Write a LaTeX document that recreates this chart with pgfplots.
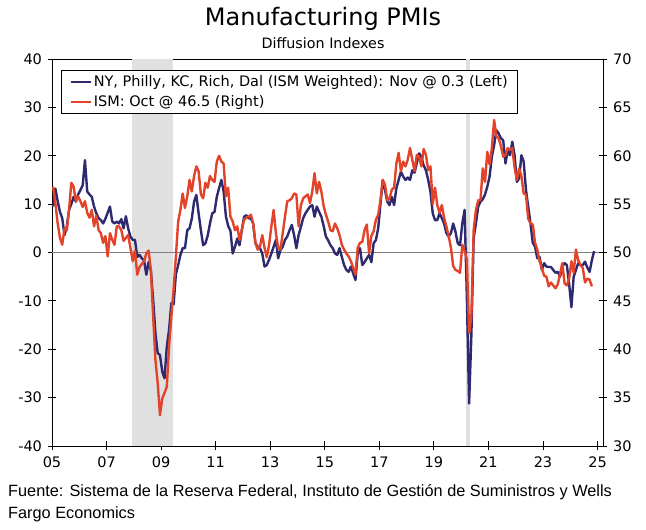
\documentclass[border=0pt]{standalone}
\usepackage{fontspec}
\setmainfont{DejaVu Sans}
\newfontfamily\srcfont{Liberation Sans}
\usepackage{pgfplots}
\usepackage{pgfplotstable}
\pgfplotsset{compat=1.18}
\definecolor{pmiblue}{RGB}{46,42,112}
\definecolor{pmired}{RGB}{226,67,41}
\definecolor{recess}{RGB}{224,224,224}

\pgfplotstableread{
yr mo reg ism
2005 1 9.5 56.8
2005 2 13.2 55.1
2005 3 10.6 53.0
2005 4 8.4 51.5
2005 5 7.1 50.8
2005 6 3.6 52.5
2005 7 5.3 52.3
2005 8 8.8 54.4
2005 9 10.0 57.2
2005 10 11.5 56.8
2005 11 10.5 55.3
2005 12 12.0 55.8
2006 1 12.9 55.3
2006 2 13.9 54.7
2006 3 19.1 55.3
2006 4 12.6 54.1
2006 5 12.0 53.6
2006 6 11.5 54.4
2006 7 9.5 52.7
2006 8 8.1 53.8
2006 9 7.1 52.3
2006 10 6.7 52.0
2006 11 6.0 51.0
2006 12 7.0 51.7
2007 1 8.2 49.6
2007 2 9.5 52.0
2007 3 6.4 51.3
2007 4 6.0 50.8
2007 5 6.4 52.7
2007 6 6.0 52.7
2007 7 6.9 52.3
2007 8 5.0 51.2
2007 9 7.5 51.5
2007 10 5.0 51.8
2007 11 3.3 50.5
2007 12 2.6 49.1
2008 1 2.6 50.2
2008 2 -0.9 47.7
2008 3 -0.5 48.5
2008 4 -1.2 48.8
2008 5 -1.6 49.1
2008 6 -4.6 49.9
2008 7 -2.0 50.2
2008 8 -3.7 48.2
2008 9 -9.8 43.4
2008 10 -16.7 38.9
2008 11 -20.8 36.5
2008 12 -21.2 33.2
2009 1 -24.6 34.9
2009 2 -26.0 35.5
2009 3 -19.5 36.1
2009 4 -16.0 40.3
2009 5 -10.5 43.4
2009 6 -10.7 46.2
2009 7 -4.5 49.6
2009 8 -2.6 53.2
2009 9 -0.5 54.4
2009 10 0.9 56.1
2009 11 0.9 54.6
2009 12 4.6 55.8
2010 1 5.0 57.5
2010 2 7.0 56.3
2010 3 10.5 57.9
2010 4 11.9 58.9
2010 5 8.1 58.4
2010 6 4.6 56.0
2010 7 1.5 55.6
2010 8 1.9 57.2
2010 9 3.5 56.7
2010 10 6.0 57.9
2010 11 8.1 57.5
2010 12 8.4 57.3
2011 1 11.5 59.4
2011 2 13.3 60.0
2011 3 15.0 59.4
2011 4 12.6 59.2
2011 5 7.5 55.8
2011 6 5.5 56.7
2011 7 4.5 53.7
2011 8 -0.2 53.2
2011 9 1.2 52.3
2011 10 2.9 52.7
2011 11 1.5 51.3
2011 12 4.6 52.3
2012 1 7.4 53.4
2012 2 7.7 53.6
2012 3 7.1 53.7
2012 4 7.0 53.9
2012 5 6.0 53.0
2012 6 1.9 51.0
2012 7 1.2 50.3
2012 8 0.9 50.6
2012 9 -0.2 51.8
2012 10 -2.9 50.5
2012 11 -2.6 49.5
2012 12 -1.5 50.8
2013 1 -0.2 52.7
2013 2 1.2 54.4
2013 3 2.6 52.0
2013 4 -1.2 50.5
2013 5 0.5 50.3
2013 6 1.2 52.0
2013 7 2.6 53.7
2013 8 3.3 55.3
2013 9 4.6 55.4
2013 10 5.7 55.6
2013 11 3.6 56.1
2013 12 0.9 56.0
2014 1 3.6 52.7
2014 2 5.3 54.9
2014 3 7.1 55.6
2014 4 8.1 55.8
2014 5 8.8 56.0
2014 6 9.5 55.1
2014 7 9.8 56.3
2014 8 7.4 58.2
2014 9 9.5 56.1
2014 10 8.4 57.3
2014 11 7.4 56.3
2014 12 5.5 54.8
2015 1 3.3 53.9
2015 2 2.5 53.2
2015 3 1.5 52.3
2015 4 0.9 52.2
2015 5 -0.2 53.0
2015 6 -0.5 52.5
2015 7 0.9 51.8
2015 8 -0.9 50.8
2015 9 -2.6 50.3
2015 10 -3.6 49.9
2015 11 -4.0 49.6
2015 12 -2.9 49.1
2016 1 -4.3 48.4
2016 2 -5.7 47.7
2016 3 -0.2 50.5
2016 4 0.9 51.0
2016 5 -2.6 51.1
2016 6 -2.0 52.3
2016 7 -1.2 52.9
2016 8 -0.5 49.9
2016 9 -2.0 51.7
2016 10 1.9 52.2
2016 11 2.6 53.4
2016 12 5.0 53.9
2017 1 10.0 55.4
2017 2 15.0 57.5
2017 3 12.9 57.0
2017 4 10.5 55.4
2017 5 9.8 55.6
2017 6 11.5 56.5
2017 7 9.8 56.7
2017 8 13.3 59.2
2017 9 15.0 60.3
2017 10 16.7 58.4
2017 11 15.7 59.4
2017 12 15.0 58.9
2018 1 15.5 59.6
2018 2 15.0 60.8
2018 3 17.0 59.6
2018 4 16.5 58.4
2018 5 18.5 60.1
2018 6 20.5 59.9
2018 7 19.8 58.9
2018 8 18.0 60.7
2018 9 17.0 60.1
2018 10 15.0 58.5
2018 11 12.5 58.9
2018 12 8.1 55.0
2019 1 6.7 56.7
2019 2 6.7 54.9
2019 3 8.1 54.1
2019 4 7.1 54.9
2019 5 6.0 53.6
2019 6 4.0 52.7
2019 7 3.3 51.7
2019 8 4.0 50.5
2019 9 6.0 48.6
2019 10 4.3 48.2
2019 11 1.9 48.1
2019 12 1.5 47.9
2020 1 6.0 50.8
2020 2 8.8 50.2
2020 3 -9.0 49.3
2020 4 -31.2 41.7
2020 5 -17.0 43.4
2020 6 3.0 52.3
2020 7 6.0 54.4
2020 8 9.5 55.4
2020 9 10.5 55.4
2020 10 11.0 58.7
2020 11 12.0 57.3
2020 12 13.6 60.4
2021 1 15.7 59.1
2021 2 19.8 60.8
2021 3 22.2 63.7
2021 4 25.3 62.0
2021 5 24.6 61.8
2021 6 23.6 61.0
2021 7 23.2 59.9
2021 8 18.4 60.1
2021 9 21.2 60.8
2021 10 20.1 60.6
2021 11 22.9 60.8
2021 12 20.1 58.8
2022 1 14.6 57.5
2022 2 15.3 58.7
2022 3 20.1 57.9
2022 4 18.8 56.1
2022 5 13.0 56.0
2022 6 9.5 53.5
2022 7 6.0 53.0
2022 8 2.0 52.9
2022 9 1.2 51.0
2022 10 -1.2 50.3
2022 11 -0.9 49.1
2022 12 -3.6 48.4
2023 1 -2.2 47.6
2023 2 -2.9 47.5
2023 3 -3.0 46.5
2023 4 -3.0 46.9
2023 5 -3.6 46.6
2023 6 -4.2 46.3
2023 7 -4.0 46.7
2023 8 -5.0 47.8
2023 9 -2.9 48.9
2023 10 -2.2 46.8
2023 11 -2.6 46.6
2023 12 -6.5 47.3
2024 1 -11.3 49.1
2024 2 -5.0 47.9
2024 3 -3.6 50.3
2024 4 -2.2 49.2
2024 5 -2.6 48.7
2024 6 -2.6 48.4
2024 7 -1.9 46.9
2024 8 -3.1 47.3
2024 9 -4.0 47.2
2024 10 -1.6 46.5
2024 11 0.3 nan
}\pmidata

\begin{document}
\begin{tikzpicture}[x=1pt,y=1pt]
\path[use as bounding box] (0,0) rectangle (646,530);
\pgfplotsset{
  pmibase/.style={
    scale only axis, width=551pt, height=387pt,
    at={(52pt,84pt)}, anchor=south west,
    xmin=2005, xmax=2025.2,
    tick align=center, major tick length=9pt,
    every tick/.style={black, line width=0.8pt},
    axis line style={black, line width=0.8pt},
    ticklabel style={font=\fontsize{14.5pt}{17pt}\selectfont},
    /pgf/number format/assume math mode=true,
  }
}
\begin{axis}[pmibase,
  ymin=-40, ymax=40, ytick={-40,-30,...,40},
  xtick={2005,2007,...,2025},
  xticklabels={05,07,09,11,13,15,17,19,21,23,25},
  xtick pos=lower, ytick pos=left,
  yticklabel style={xshift=-2pt},
  xticklabel style={yshift=-3pt},
  legend style={at={(rel axis cs:0.0163,0.972)}, anchor=north west,
    draw=black, line width=0.8pt, fill=white,
    font=\fontsize{14.5pt}{17pt}\selectfont,
    inner xsep=8pt, inner ysep=3.5pt, row sep=3.5pt,
    /tikz/every even column/.style={column sep=0pt}},
  legend cell align=left,
  legend image code/.code={\draw[#1] (0pt,0pt) -- (20pt,0pt);},
]
\fill[recess] (axis cs:2007.95,-40) rectangle (axis cs:2009.45,40);
\fill[recess] (axis cs:2020.16,-40) rectangle (axis cs:2020.32,40);
\draw[gray, line width=0.9pt] (axis cs:2005,0) -- (axis cs:2025.2,0);
\addplot[pmiblue, line width=2.4pt, line join=round] table[x expr=\thisrow{yr}+(\thisrow{mo}-0.5)/12, y=reg] {\pmidata};
\addlegendentry{NY, Philly, KC, Rich, Dal (ISM Weighted): Nov @ 0.3 (Left)}
\addlegendimage{pmired, line width=2.4pt}
\addlegendentry{ISM: Oct @ 46.5 (Right)}
\end{axis}
\begin{axis}[pmibase,
  ymin=30, ymax=70, ytick={30,35,...,70},
  axis x line=none, axis y line*=right,
  yticklabel style={xshift=2pt},
]
\addplot[pmired, line width=2.4pt, line join=round] table[x expr=\thisrow{yr}+(\thisrow{mo}-0.5)/12, y=ism] {\pmidata};
\end{axis}
\node[font=\fontsize{24pt}{28pt}\selectfont] at (323,511) {Manufacturing PMIs};
\node[font=\fontsize{14.3pt}{17pt}\selectfont] at (323,487) {Diffusion Indexes};
\node[anchor=base west, inner sep=0pt, font=\srcfont\fontsize{16.3pt}{19pt}\selectfont] at (8,33) {Fuente: Sistema de la Reserva Federal, Instituto de Gestión de Suministros y Wells};
\node[anchor=base west, inner sep=0pt, font=\srcfont\fontsize{16.3pt}{19pt}\selectfont] at (8,11) {Fargo Economics};
\end{tikzpicture}
\end{document}
